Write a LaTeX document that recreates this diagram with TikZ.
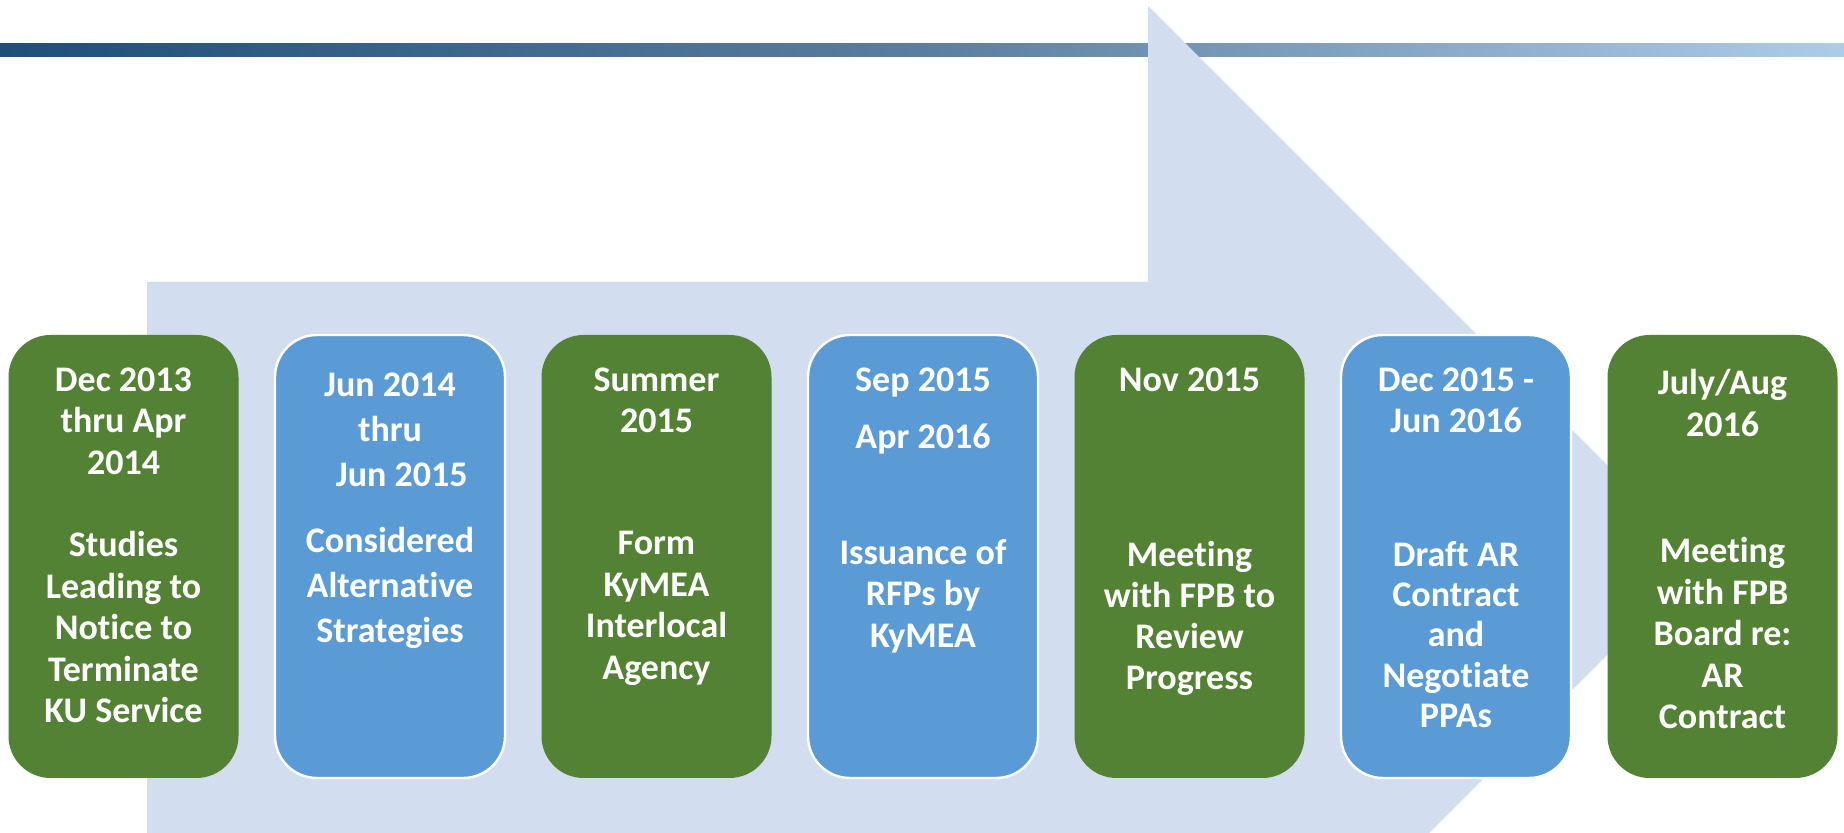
\documentclass[tikz,border=0pt]{standalone}
\usepackage{fontspec}
\setmainfont{Carlito}[Ligatures=NoCommon]
\usetikzlibrary{positioning}

\definecolor{phasegreen}{RGB}{84,130,53}
\definecolor{phaseblue}{RGB}{91,155,213}
\definecolor{arrowfill}{RGB}{210,222,239}
\definecolor{banddark}{RGB}{31,78,121}
\definecolor{bandmid}{RGB}{92,126,158}
\definecolor{bandlight}{RGB}{174,204,232}

\begin{document}
\begin{tikzpicture}[x=0.5pt, y=-0.5pt, node distance=18.25pt]
    % Styles
    \tikzstyle{phase_green} = [rectangle, fill=phasegreen, rounded corners=21pt, minimum width=115pt, minimum height=221.5pt, inner sep=0pt, outer sep=0pt]
    \tikzstyle{phase_blue} = [phase_green, fill=phaseblue, draw=white, line width=1.2pt]
    \tikzstyle{phase_text} = [text=white, font=\fontsize{18pt}{20.75pt}\selectfont\bfseries, align=center, inner sep=0pt, anchor=north]

    % Frame
    \useasboundingbox (0,0) rectangle (1844,833);
    \clip (0,0) rectangle (1844,833);
    \fill [white] (0,0) rectangle (1844,833);

    % Top band and big arrow
    \shade [left color=banddark, right color=bandlight, middle color=bandmid] (0,44) rectangle (1844,57);
    \fill [arrowfill] (147,282) -- (1148,282) -- (1148,6) -- (1702,560) -- (1148,1114) -- (1148,838) -- (147,838) -- cycle;

    % Phases
    \node [phase_green] (p1) at (123.5,556.5) {};
    \node [phase_blue, right=of p1] (p2) {};
    \node [phase_green, right=of p2] (p3) {};
    \node [phase_blue, right=of p3] (p4) {};
    \node [phase_green, right=of p4] (p5) {};
    \node [phase_blue, right=of p5] (p6) {};
    \node [phase_green, right=of p6] (p7) {};

    % Dates
    \node [phase_text, below=16pt of p1.north] (d1) {Dec 2013\\thru Apr\\2014};
    \node [phase_text, below=18.5pt of p2.north] (d2) {Jun 2014\\[1.75pt]thru\\[1.75pt]\hspace*{11.7pt}Jun 2015};
    \node [phase_text, below=16pt of p3.north] (d3) {Summer\\2015};
    \node [phase_text, below=16pt of p4.north] (d4) {Sep 2015\\[7.75pt]Apr 2016};
    \node [phase_text, below=16pt of p5.north] (d5) {Nov 2015};
    \node [phase_text, below=16pt of p6.north] (d6) {Dec 2015 -\\Jun 2016};
    \node [phase_text, below=17pt of p7.north] (d7) {July/Aug\\2016};

    % Steps
    \node [phase_text, below=98pt of p1.north] (t1) {Studies\\Leading to\\Notice to\\Terminate\\KU Service};
    \node [phase_text, below=96pt of p2.north] (t2) {Considered\\[1.75pt]Alternative\\[1.75pt]Strategies};
    \node [phase_text, below=98pt of p3.north] (t3) {Form\\KyMEA\\Interlocal\\Agency};
    \node [phase_text, below=102pt of p4.north] (t4) {Issuance of\\RFPs by\\KyMEA};
    \node [phase_text, below=103pt of p5.north] (t5) {Meeting\\[-0.25pt]with FPB to\\[-0.25pt]Review\\[-0.25pt]Progress};
    \node [phase_text, below=103pt of p6.north] (t6) {Draft AR\\[-0.65pt]Contract\\[-0.65pt]and\\[-0.65pt]Negotiate\\[-0.65pt]PPAs};
    \node [phase_text, below=101pt of p7.north] (t7) {Meeting\\with FPB\\Board re:\\AR\\Contract};

\end{tikzpicture}
\end{document}
